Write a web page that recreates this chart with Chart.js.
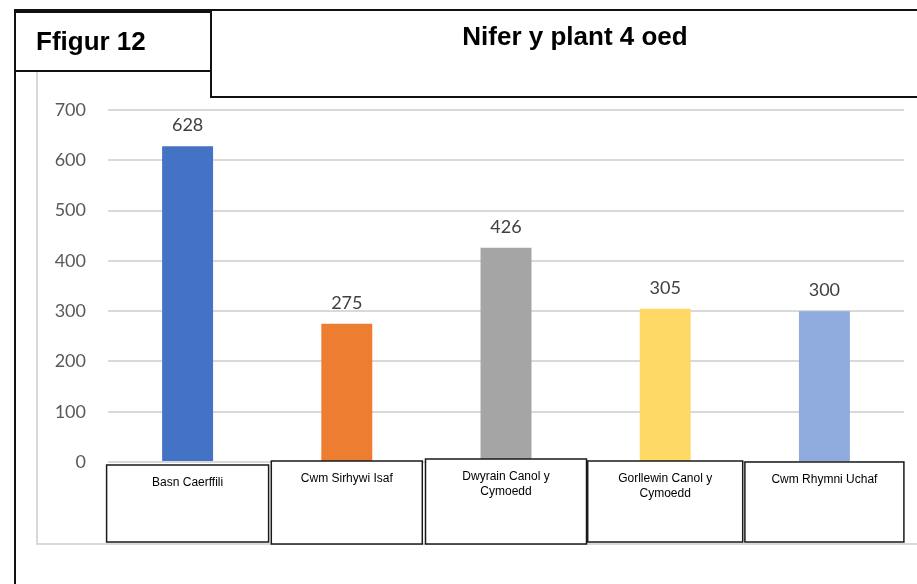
<!DOCTYPE html>
<html lang="cy">
<head>
  <meta charset="UTF-8" />
  <title>Nifer y plant 4 oed</title>
  <script src="https://cdn.jsdelivr.net/npm/chart.js"></script>
  <style>
    html, body { margin: 0; padding: 0; background: #fff; }
    canvas { display: block; }
  </style>
</head>
<body>
  <canvas id="myChart" width="917" height="584"></canvas>

  <script>
    // data
    const categories = [
      ['Basn Caerffili'],
      ['Cwm Sirhywi Isaf'],
      ['Dwyrain Canol y', 'Cymoedd'],
      ['Gorllewin Canol y', 'Cymoedd'],
      ['Cwm Rhymni Uchaf']
    ];
    const values = [628, 275, 426, 305, 300];
    const barColours = ['#4472C4', '#ED7D31', '#A5A5A5', '#FFD966', '#8FAADC'];
    const yTicks = [0, 100, 200, 300, 400, 500, 600, 700];

    const figureLabel = 'Ffigur 12';
    const chartTitle = 'Nifer y plant 4 oed';

    // the hand-drawn label boxes under the axis are a bit uneven
    const boxWidths = [162, 151, 161, 155, 159];
    const boxTops = [465, 461, 459, 461, 462];
    const boxBottoms = [542, 544, 544, 542, 542];

    // frame, header boxes and category label boxes
    const decorations = {
      id: 'decorations',
      beforeDraw(chart) {
        const c = chart.ctx;
        c.save();
        c.fillStyle = '#fff';
        c.fillRect(0, 0, chart.width, chart.height);
        // light grey chart border
        c.strokeStyle = '#d9d9d9';
        c.lineWidth = 2;
        c.beginPath();
        c.moveTo(37, 70);
        c.lineTo(37, 544);
        c.lineTo(917, 544);
        c.stroke();
        c.restore();
      },
      afterDraw(chart) {
        const c = chart.ctx;
        const x = chart.scales.x;
        c.save();

        // value labels over the bars
        const meta = chart.getDatasetMeta(0);
        c.fillStyle = '#404040';
        c.font = '18px Lato, "Open Sans", sans-serif';
        c.textAlign = 'center';
        c.textBaseline = 'alphabetic';
        meta.data.forEach((bar, i) => {
          c.fillText(values[i], bar.x, bar.y - 15);
        });

        // category boxes
        c.font = '12px "Liberation Sans", Arial, sans-serif';
        c.textBaseline = 'middle';
        categories.forEach((lines, i) => {
          const cx = x.getPixelForValue(i);
          const w = boxWidths[i];
          c.fillStyle = '#fff';
          c.fillRect(cx - w / 2, boxTops[i], w, boxBottoms[i] - boxTops[i]);
          c.strokeStyle = '#1a1a1a';
          c.lineWidth = 1.5;
          c.strokeRect(cx - w / 2, boxTops[i], w, boxBottoms[i] - boxTops[i]);
          c.fillStyle = '#000';
          lines.forEach((t, j) => {
            c.fillText(t, cx, boxTops[i] + 18 + j * 15);
          });
        });

        // header boxes
        c.strokeStyle = '#111';
        c.lineWidth = 2;
        c.fillStyle = '#fff';
        c.fillRect(211, 10, 720, 87);
        c.strokeRect(211, 10, 720, 87);
        c.fillRect(15, 12, 196, 59);
        c.strokeRect(15, 12, 196, 59);

        // outer frame lines
        c.beginPath();
        c.moveTo(14, 10);
        c.lineTo(917, 10);
        c.moveTo(15, 10);
        c.lineTo(15, 584);
        c.stroke();

        c.fillStyle = '#000';
        c.font = 'bold 26px "Liberation Sans", Arial, sans-serif';
        c.textAlign = 'left';
        c.textBaseline = 'alphabetic';
        c.fillText(figureLabel, 36, 50);
        c.textAlign = 'center';
        c.fillText(chartTitle, 575, 45);
        c.restore();
      }
    };

    new Chart(document.getElementById('myChart'), {
      type: 'bar',
      data: {
        labels: categories,
        datasets: [{
          data: values,
          backgroundColor: barColours,
          borderWidth: 0,
          barPercentage: 0.64,
          categoryPercentage: 0.5
        }]
      },
      options: {
        responsive: false,
        animation: false,
        layout: { padding: { top: 110, right: 13, bottom: 122, left: 0 } },
        plugins: {
          legend: { display: false },
          tooltip: { enabled: false }
        },
        scales: {
          x: {
            display: false
          },
          y: {
            min: 0,
            max: 700,
            afterFit: s => { s.width = 108; },
            afterBuildTicks: s => { s.ticks = yTicks.map(v => ({ value: v })); },
            border: { display: false },
            grid: { color: '#d9d9d9', lineWidth: 2, drawTicks: false },
            ticks: {
              padding: 22,
              color: '#595959',
              font: { family: 'Lato, "Open Sans", sans-serif', size: 18 }
            }
          }
        }
      },
      plugins: [decorations]
    });
  </script>
</body>
</html>
